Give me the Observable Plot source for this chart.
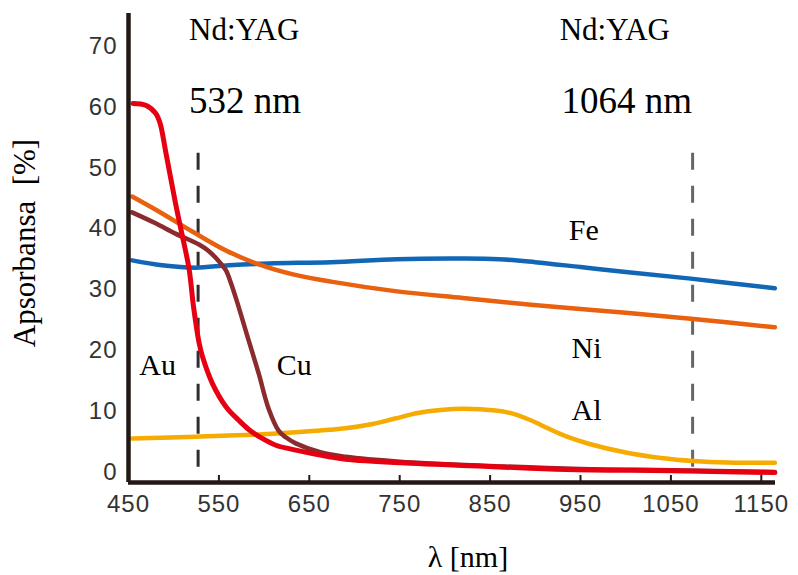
<!DOCTYPE html>
<html>
<head>
<meta charset="utf-8">
<script src="https://cdn.jsdelivr.net/npm/d3@7"></script>
<script src="https://cdn.jsdelivr.net/npm/@observablehq/plot@0.6"></script>
<style>
  html, body { margin: 0; padding: 0; background: #fff; }
  g[aria-label="y-axis tick label"] text, g[aria-label="x-axis tick label"] text { letter-spacing: 1px; }
</style>
</head>
<body>
<div id="chart"></div>
<script>
// ---- tick labels ----
const xTicks = [450, 550, 650, 750, 850, 950, 1050, 1150];
const xTickMarks = [550, 650, 750, 850, 950, 1050, 1150];
const yTicks = [0, 10, 20, 30, 40, 50, 60, 70];

// ---- series (wavelength nm, absorbance %) ----
const feX = [454, 487, 524, 561, 605, 674, 747, 815, 860, 900, 950, 1000, 1072, 1165];
const feY = [34.8, 34.0, 33.6, 34.0, 34.3, 34.5, 35.0, 35.1, 35.0, 34.5, 33.7, 32.9, 31.8, 30.2];

const niX = [454, 484, 521, 558, 595, 632, 674, 747, 820, 895, 950, 1000, 1072, 1165];
const niY = [45.3, 42.8, 39.5, 36.4, 34.1, 32.5, 31.3, 29.7, 28.6, 27.5, 26.8, 26.2, 25.2, 23.8];

const alX = [454, 525, 598, 650, 690, 720, 745, 770, 795, 821, 856, 875, 895, 915, 935, 960, 1000, 1039, 1075, 1113, 1165];
const alY = [5.5, 5.8, 6.2, 6.7, 7.2, 7.9, 8.8, 9.7, 10.2, 10.4, 10.1, 9.6, 8.5, 7.1, 5.8, 4.6, 3.2, 2.3, 1.8, 1.55, 1.5];

const cuX = [454, 480, 502, 528, 539, 552, 558, 563, 569, 583, 594, 605, 616, 624, 635, 663, 690, 750, 850, 950, 1050, 1165];
const cuY = [42.7, 40.9, 39.2, 37.4, 36.3, 34.3, 33.1, 31.2, 28.5, 21.6, 16.2, 10.4, 6.8, 5.7, 4.7, 3.2, 2.5, 1.7, 1.0, 0.5, 0.3, 0.0];

const auX = [455, 469, 480, 485, 491, 502, 509, 517, 522, 528, 532, 543, 558, 572, 583, 597, 613, 635, 672, 690, 751, 849, 934, 1050, 1165];
const auY = [60.6, 60.3, 59.0, 57.3, 52.8, 44.2, 39.2, 33.4, 27.1, 21.3, 18.9, 14.5, 10.7, 8.5, 7.0, 5.6, 4.4, 3.6, 2.5, 2.1, 1.5, 0.9, 0.4, 0.2, -0.1];

const seriesNames = ["Fe", "Ni", "Al", "Cu", "Au"];
const seriesX = [feX, niX, alX, cuX, auX];
const seriesY = [feY, niY, alY, cuY, auY];
const seriesColors = ["#1166b5", "#e9600e", "#f5ab00", "#8b2b2e", "#e60012"];
const seriesWidths = [4.5, 4.5, 4.5, 4.5, 5];

// ---- laser wavelength markers ----
const laserX = [527, 1074];
const laserColors = ["#2e2e2e", "#666666"];
const laserTop = 52.4;
const laserBottom = -0.25;

// ---- annotations (left / baseline) ----
const annLabels = ["Nd:YAG", "Nd:YAG", "532 nm", "1064 nm", "Fe", "Ni", "Al", "Au", "Cu"];
const annX = [517, 927, 517, 929, 937, 940, 940, 462, 614];
const annY = [71.0, 71.0, 59.0, 59.0, 38.1, 18.7, 8.5, 15.9, 15.9];
const annSize = [31, 31, 37, 37, 30, 30, 30, 30, 30];

const yTitle = "Apsorbansa\u00a0\u00a0[%]";
const xTitle = "λ [nm]";

const yMin = -1.73, yMax = 75.4;
const axisColor = "#231815";
const serif = "'Liberation Serif', 'Times New Roman', serif";

const lineMarks = seriesNames.map((name, i) =>
  Plot.line(seriesX[i].map((x, j) => ({x, y: seriesY[i][j]})), {
    x: "x", y: "y", stroke: seriesColors[i], strokeWidth: seriesWidths[i],
    curve: "catmull-rom", strokeLinecap: "round", strokeLinejoin: "round"
  })
);

const annData = annLabels.map((t, i) => ({t, x: annX[i], y: annY[i], s: annSize[i]}));

const chart = Plot.plot({
  width: 798,
  height: 575,
  marginLeft: 128,
  marginRight: 23,
  marginTop: 13,
  marginBottom: 93,
  x: {domain: [450, 1165.7]},
  y: {domain: [yMin, yMax]},
  style: {background: "#fff", fontFamily: "'Liberation Sans', Arial, sans-serif", fontSize: "24px"},
  marks: [
    Plot.ruleX(laserX.map((x, i) => ({x, c: laserColors[i]})), {
      x: "x", y1: laserTop, y2: laserBottom, stroke: "c", strokeWidth: 3, strokeDasharray: "17,16"
    }),
    ...lineMarks,
    Plot.ruleY([yMin], {stroke: axisColor, strokeWidth: 4.5}),
    Plot.ruleX([450], {y1: yMin, y2: yMax, stroke: axisColor, strokeWidth: 4.5}),
    Plot.ruleX(xTickMarks, {y1: yMin, y2: yMin + 1.15, stroke: axisColor, strokeWidth: 2}),
    Plot.axisX(xTicks, {tickSize: 0, tickPadding: 12, color: "#333", fontSize: 24, label: null, tickFormat: d => String(d)}),
    Plot.axisY(yTicks, {tickSize: 0, tickPadding: 11, color: "#333", fontSize: 24, label: null, tickFormat: d => String(d)}),
    ...[31, 37, 30].map(s =>
      Plot.text(annData.filter(d => d.s === s), {
        x: "x", y: "y", text: "t", textAnchor: "start", lineAnchor: "bottom",
        fontSize: s, fontFamily: serif, fill: "#000"
      })
    ),
    Plot.text([yTitle], {
      frameAnchor: "left", textAnchor: "middle", lineAnchor: "middle", rotate: -90, dx: -103, dy: -5,
      fontSize: 31, fontFamily: serif, fill: "#000"
    }),
    Plot.text([xTitle], {
      frameAnchor: "bottom", textAnchor: "middle", lineAnchor: "bottom", dx: 16, dy: 84,
      fontSize: 30, fontFamily: serif, fill: "#000"
    })
  ]
});

document.getElementById("chart").appendChild(chart);
</script>
</body>
</html>
